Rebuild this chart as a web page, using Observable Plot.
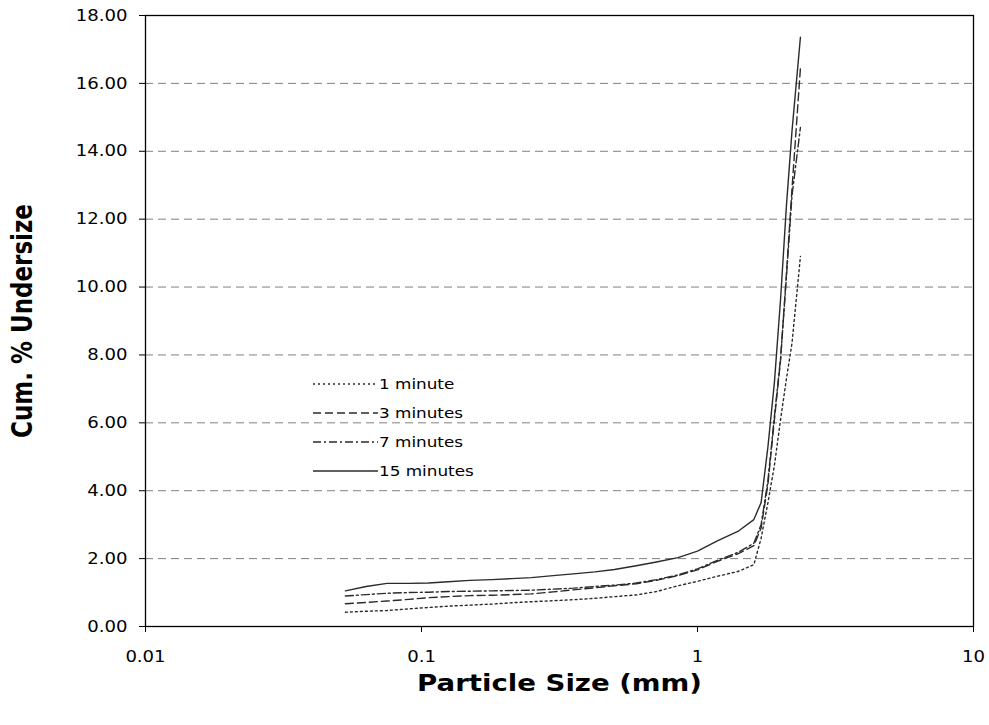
<!DOCTYPE html>
<html>
<head>
<meta charset="utf-8">
<script src="https://cdn.jsdelivr.net/npm/d3@7"></script>
<script src="https://cdn.jsdelivr.net/npm/@observablehq/plot@0.6"></script>
<style>
  body { margin: 0; background: #fff; }
  #wrap { position: relative; width: 989px; height: 725px; font-family: "DejaVu Sans", Verdana, sans-serif; }
  #wrap svg { font-family: "DejaVu Sans", Verdana, sans-serif; }
  g[aria-label="x-axis label"] text, g[aria-label="y-axis label"] text { font-weight: bold; font-size: 23px; fill: #000; }
  g[aria-label$="tick label"], g[aria-label$="tick label"] text { font-size: 16px !important; fill: #000; }
  #legend { position: absolute; left: 313px; top: 369px; font-size: 14px; color: #000; }
  #legend .row { display: flex; align-items: center; height: 29px; }
  #legend .row span { display: inline-block; margin-left: 1px; transform: scaleX(1.2); transform-origin: left center; }
</style>
</head>
<body>
<div id="wrap"></div>
<script>
const sizes = [0.053,0.063,0.075,0.09,0.106,0.125,0.15,0.18,0.212,0.25,0.3,0.355,0.425,0.5,0.6,0.71,0.85,1.0,1.18,1.4,1.6,1.7,1.8,1.9,2.0,2.1,2.2,2.36];
const min1  = [0.42,0.45,0.47,0.52,0.56,0.60,0.63,0.66,0.70,0.73,0.76,0.79,0.83,0.88,0.93,1.03,1.20,1.33,1.48,1.62,1.82,2.6,3.65,4.75,6.1,7.3,8.35,10.9];
const min3  = [0.67,0.71,0.75,0.80,0.85,0.88,0.91,0.92,0.94,0.96,1.02,1.08,1.14,1.20,1.26,1.36,1.50,1.67,1.92,2.14,2.38,2.9,4.2,6.1,7.85,10.4,12.9,16.45];
const min7  = [0.90,0.94,0.98,1.00,1.01,1.03,1.04,1.05,1.06,1.07,1.10,1.13,1.18,1.22,1.28,1.38,1.52,1.70,1.95,2.18,2.45,3.0,4.3,6.2,7.9,10.3,12.7,14.7];
const min15 = [1.05,1.18,1.27,1.27,1.28,1.32,1.36,1.38,1.41,1.44,1.50,1.55,1.61,1.68,1.79,1.90,2.03,2.22,2.52,2.80,3.15,3.65,5.3,7.2,9.65,12.4,14.6,17.36];

const seriesNames = ["1 minute","3 minutes","7 minutes","15 minutes"];
const seriesValues = [min1, min3, min7, min15];
const dashes = ["2,3", "8,4", "8,3,2,3", null];
const xTicks = [0.01, 0.1, 1, 10];
const yTicks = [0,2,4,6,8,10,12,14,16,18];
const gridTicks = [2,4,6,8,10,12,14,16];

const lineColor = "#2b2b2b";
const lineMarks = seriesValues.map((vals, i) => {
  const data = sizes.map((s, j) => ({size: s, value: vals[j]}));
  return Plot.line(data, {x: "size", y: "value", stroke: lineColor, strokeWidth: 1.4, strokeDasharray: dashes[i] || undefined});
});

const chart = Plot.plot({
  width: 989,
  height: 725,
  marginLeft: 145,
  marginRight: 16,
  marginTop: 15,
  marginBottom: 99,
  style: {fontSize: "16px", fontFamily: "DejaVu Sans, Verdana, sans-serif", color: "#000", background: "#fff"},
  x: {type: "log", domain: [0.01, 10]},
  y: {domain: [0, 18]},
  marks: [
    Plot.ruleY(gridTicks, {stroke: "#808080", strokeWidth: 1, strokeDasharray: "8,5"}),
    Plot.frame({stroke: "#000", strokeWidth: 1.3}),
    Plot.axisY({ticks: yTicks, tickFormat: d => d.toFixed(2), tickSize: 6, tickPadding: 12, tickStrokeWidth: 1.2, fontSize: 16,
      label: "Cum. % Undersize", labelAnchor: "center", labelArrow: "none", labelOffset: 133}),
    Plot.axisX({ticks: xTicks, tickFormat: d => String(d), tickSize: 6, tickPadding: 18, tickStrokeWidth: 1.2, fontSize: 16,
      label: "Particle Size (mm)", labelAnchor: "center", labelArrow: "none", labelOffset: 64}),
    ...lineMarks
  ]
});
const wrap = document.getElementById("wrap");
wrap.appendChild(chart);

// emulate the horizontally stretched lettering of the original
function stretchEl(t, sx, sy) {
  const tr = t.getAttribute("transform");
  if (tr) {
    t.setAttribute("transform", `${tr} scale(${sx},${sy})`);
  } else {
    const x = +t.getAttribute("x") || 0, y = +t.getAttribute("y") || 0;
    t.setAttribute("transform", `translate(${x},${y}) scale(${sx},${sy}) translate(${-x},${-y})`);
  }
}
chart.querySelectorAll("text").forEach(t => {
  const g = t.closest("g[aria-label]");
  const name = g ? g.getAttribute("aria-label") : "";
  let s = null;
  if (/tick label/.test(name)) s = [1.13, 1];
  else if (/^x-axis label/.test(name)) s = [1.2, 1];
  else if (/^y-axis label/.test(name)) s = [1, 1.2];
  if (s) stretchEl(t, s[0], s[1]);
});

// legend
const legend = document.createElement("div");
legend.id = "legend";
seriesNames.forEach((name, i) => {
  const row = document.createElement("div");
  row.className = "row";
  const dash = dashes[i] ? `stroke-dasharray="${dashes[i]}"` : "";
  row.innerHTML = `<svg width="65" height="4"><line x1="0" y1="2" x2="65" y2="2" stroke="${lineColor}" stroke-width="1.4" ${dash}/></svg><span>${name}</span>`;
  legend.appendChild(row);
});
wrap.appendChild(legend);
</script>
</body>
</html>
